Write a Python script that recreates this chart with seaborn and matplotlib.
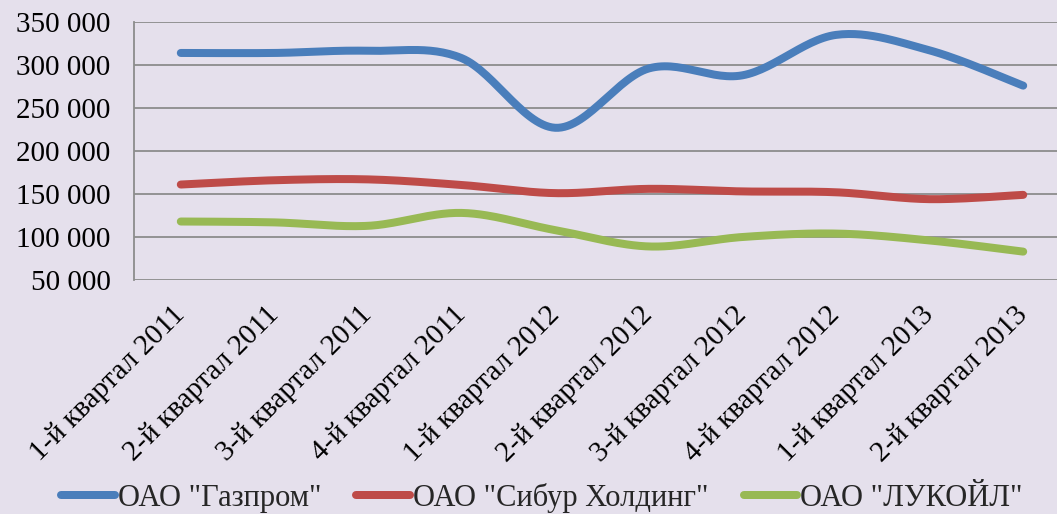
import numpy as np
import pandas as pd
import matplotlib
matplotlib.use("Agg")
import matplotlib.pyplot as plt
import seaborn as sns
from matplotlib.lines import Line2D

categories = ["1-й квартал 2011", "2-й квартал 2011", "3-й квартал 2011", "4-й квартал 2011",
              "1-й квартал 2012", "2-й квартал 2012", "3-й квартал 2012", "4-й квартал 2012",
              "1-й квартал 2013", "2-й квартал 2013"]
gazprom = [314000, 314000, 316500, 308000, 227000, 296000, 288000, 335000, 317000, 276000]
sibur = [161000, 166000, 167000, 160500, 151000, 156000, 153000, 152000, 144000, 149000]
lukoil = [118000, 117000, 113000, 128000, 108000, 89000, 100000, 104000, 96000, 83000]
series_names = ['ОАО "Газпром"', 'ОАО "Сибур Холдинг"', 'ОАО "ЛУКОЙЛ"']
colors = ["#4A7EBB", "#BE4B48", "#98B954"]
yticks = [50000, 100000, 150000, 200000, 250000, 300000, 350000]

sns.set_theme(style="white")
plt.rcParams['font.family'] = 'serif'
plt.rcParams['font.serif'] = ['Liberation Serif', 'Times New Roman', 'DejaVu Serif']

BG = "#E5E0EC"
FS = 21
fig = plt.figure(figsize=(10.57, 5.14), dpi=100, facecolor=BG)
ax = fig.add_axes([134/1057, 1 - 280/514, 936/1057, 258/514])
ax.set_facecolor(BG)


def smooth(y, n=30):
    # Catmull-Rom style smoothing (like Excel's smoothed line)
    y = np.asarray(y, float)
    x = np.arange(len(y), dtype=float)
    px = np.concatenate([[x[0]], x, [x[-1]]])
    py = np.concatenate([[y[0]], y, [y[-1]]])
    xs, ys = [], []
    for i in range(1, len(px) - 2):
        p0, p1, p2, p3 = (np.array([px[j], py[j]]) for j in (i - 1, i, i + 1, i + 2))
        c1 = p1 + (p2 - p0) / 6
        c2 = p2 - (p3 - p1) / 6
        t = np.linspace(0, 1, n, endpoint=(i == len(px) - 3))[:, None]
        b = (1 - t) ** 3 * p1 + 3 * (1 - t) ** 2 * t * c1 + 3 * (1 - t) * t ** 2 * c2 + t ** 3 * p2
        xs.append(b[:, 0]); ys.append(b[:, 1])
    return np.concatenate(xs), np.concatenate(ys)


lw = 8 * 72 / 100
for name, vals, c in zip(series_names, [gazprom, sibur, lukoil], colors):
    sx, sy = smooth(vals)
    df = pd.DataFrame({"x": sx, "y": sy})
    sns.lineplot(data=df, x="x", y="y", ax=ax, color=c, linewidth=lw, sort=False,
                 solid_capstyle="round", solid_joinstyle="round", zorder=3)

ax.set_xlim(-0.5, 9.5)
ax.set_ylim(50000, 350000)
ax.set_yticks(yticks)
ax.set_yticklabels([f"{v:,}".replace(",", " ") for v in yticks], fontsize=FS, color="black")
ax.yaxis.grid(True, color="#8C8C8C", linewidth=1.3, zorder=1)
ax.xaxis.grid(False)
ax.set_xticks(range(len(categories)))
ax.set_xticklabels(categories, rotation=45, ha="right", va="center", rotation_mode="anchor",
                   fontsize=FS, color="black")
ax.tick_params(axis="x", length=0, pad=22)
ax.tick_params(axis="y", length=0, pad=17)
for s in ["top", "right", "bottom"]:
    ax.spines[s].set_visible(False)
ax.spines["left"].set_color("#8C8C8C")
ax.spines["left"].set_linewidth(1.3)
ax.set_xlabel("")
ax.set_ylabel("")

handles = [Line2D([0], [0], color=c, linewidth=lw, solid_capstyle="round") for c in colors]
fig.legend(handles, series_names, loc="center", bbox_to_anchor=(542/1057, 1 - 498/514), ncol=3,
           frameon=False, fontsize=22, handlelength=1.75, handletextpad=0.1, columnspacing=1.15,
           borderaxespad=0)

fig.savefig("out.png", dpi=100, facecolor=BG)
